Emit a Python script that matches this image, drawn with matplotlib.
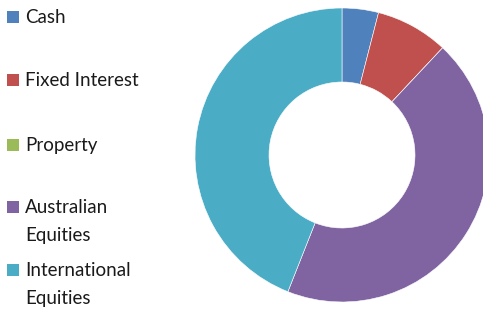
import matplotlib
matplotlib.use("Agg")
import matplotlib.pyplot as plt
from matplotlib.patches import Rectangle

# asset allocation (%)
labels = ["Cash", "Fixed Interest", "Property", "Australian\nEquities", "International\nEquities"]
values = [4, 8, 0, 44, 44]
colors = ["#4F81BD", "#C0504D", "#9BBB59", "#8064A2", "#4BACC6"]

W, H = 483, 309
fig = plt.figure(figsize=(W / 100, H / 100), dpi=100)

# donut: centre (342,155) px, outer radius 147 px, hole radius 73 px
cx, cy, r = 342, 155, 147
ax = fig.add_axes([(cx - r) / W, (H - cy - r) / H, 2 * r / W, 2 * r / H])
ax.pie(values, colors=colors, startangle=90, counterclock=False, radius=1,
       wedgeprops=dict(width=1 - 73 / 147, edgecolor="white", linewidth=0.4))
ax.set_xlim(-1, 1)
ax.set_ylim(-1, 1)
ax.set_aspect("equal")
ax.axis("off")

# legend drawn by hand, y = marker centre in px from top
label_y = [17, 80, 145, 207, 270]
for lab, col, y in zip(labels, colors, label_y):
    fig.patches.append(Rectangle((7 / W, 1 - (y + 6) / H), 12 / W, 12 / H,
                                 transform=fig.transFigure, facecolor=col,
                                 edgecolor="none"))
    for i, line in enumerate(lab.split("\n")):
        fig.text(25 / W, 1 - (y + 6 + 28 * i) / H, line, fontsize=13.5,
                 family="Lato", color="#1a1a1a", va="baseline")

fig.savefig("out.png", dpi=100)
